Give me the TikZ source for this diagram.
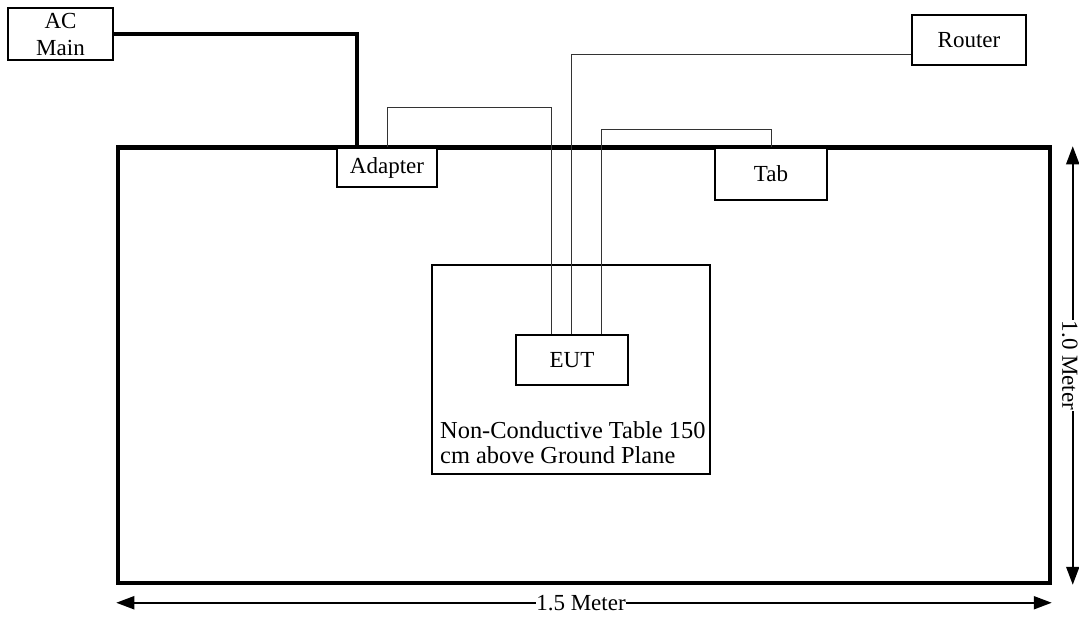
\documentclass[tikz,border=0pt]{standalone}
\usepackage{fontspec}
\setmainfont{Liberation Serif}
\usetikzlibrary{arrows.meta}
\begin{document}
\begin{tikzpicture}[x=1pt,y=-1pt,
  box/.style={draw=black,line width=1.3pt,fill=white,rectangle,inner sep=0pt,font=\fontsize{23}{27}\selectfont},
  wire/.style={draw=black!80,line width=1pt},
  thickwire/.style={draw=black,line width=3.5pt},
  dim/.style={draw=black,line width=2pt,{Triangle[length=18pt,width=13pt]}-{Triangle[length=18pt,width=13pt]}},
  dimlabel/.style={fill=white,inner sep=0.5pt,font=\fontsize{23}{25}\selectfont}]
\useasboundingbox (0,0) rectangle (1079,618);
% ground plane
\node[draw=black,line width=3.5pt,minimum width=932pt,minimum height=435pt,inner sep=0pt] (plane) at (584,365.5) {};
% boxes
\node[box,minimum width=105pt,minimum height=52pt,align=center] (ac) at (60.5,34) {AC\\Main};
\node[box,minimum width=100pt,minimum height=39pt] (adapter) at (387,167.5) {Adapter};
\node[box,minimum width=112pt,minimum height=52pt] (tab) at (771,174) {Tab};
\node[box,minimum width=114pt,minimum height=50pt] (router) at (969,40) {Router};
\node[box,minimum width=278pt,minimum height=209pt] (table) at (571,369.5) {};
\node[box,minimum width=112pt,minimum height=50pt] (eut) at (572,360) {EUT};
\node[font=\fontsize{24.4}{24.5}\selectfont,align=left,anchor=north west,inner sep=0pt] (tabletext) at (440,421.5) {Non-Conductive Table 150\\cm above Ground Plane};
% redraw plane top edge over the boxes
\draw[thickwire] (plane.north west) -- (plane.north east);
% wires
\draw[thickwire] (ac.east) -| ([xshift=-30pt]adapter.north);
\draw[wire] (adapter.north) -- ++(0,-40) -| ([xshift=-21pt]eut.north);
\draw[wire] ([xshift=-1pt]eut.north) |- ([yshift=-15pt]router.west);
\draw[wire] ([xshift=29pt]eut.north) -- ++(0,-205) -| (tab.north);
% dimensions
\coordinate (vtop) at ([xshift=21pt]plane.north east);
\coordinate (vbot) at ([xshift=21pt]plane.south east);
\coordinate (hleft) at ([yshift=-18pt]plane.south west);
\coordinate (hright) at ([yshift=-18pt]plane.south east);
\draw[dim] (vtop) -- (vbot) node[midway,dimlabel,xshift=-3pt,rotate=-90] (vlab) {1.0 Meter};
\draw[dim] (hleft) -- (hright) node[midway,dimlabel,xshift=-3pt] (hlab) {1.5 Meter};
\end{tikzpicture}
\end{document}
